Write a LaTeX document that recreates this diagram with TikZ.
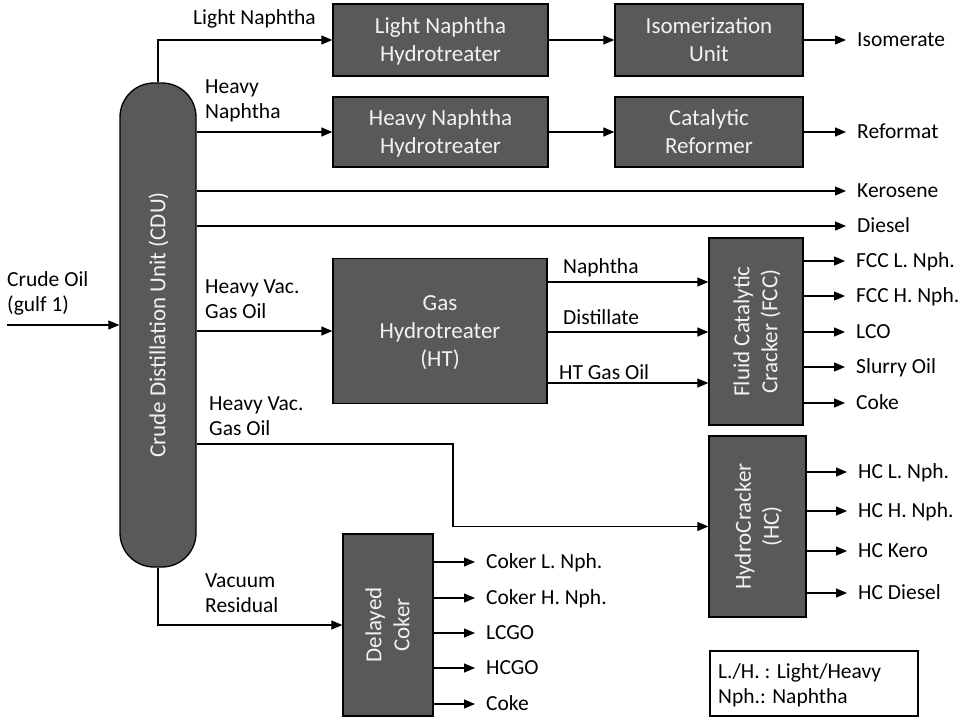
\documentclass[tikz,border=0pt]{standalone}
\usepackage{fontspec}
\setmainfont{Carlito}
\usetikzlibrary{arrows.meta}
\definecolor{boxgray}{HTML}{595959}
\definecolor{boxtxt}{HTML}{F2F2F2}
\newcommand{\ls}{\rule[-5.6pt]{0pt}{25pt}}
\newcommand{\bs}{\rule[-6.6pt]{0pt}{28pt}}
\begin{document}
\begin{tikzpicture}[x=1pt,y=-1pt,
  unit/.style={draw=black, line width=1.3pt, fill=boxgray, text=boxtxt, align=center, inner sep=0pt, font=\fontsize{23}{28}\selectfont},
  boxtext/.style={text=boxtxt, align=center, inner sep=0pt, font=\fontsize{23}{28}\selectfont},
  lab/.style={inner sep=0pt, align=left, anchor=west, text=black, font=\fontsize{21.5}{25}\selectfont},
  outlab/.style={lab, inner xsep=11pt},
  flow/.style={line width=1.2pt, -{Triangle[length=11pt,width=9pt]}},
  conn/.style={line width=1.2pt}]
\useasboundingbox (0,0) rectangle (966,717);

% main column
\node[unit, minimum width=76pt, minimum height=484pt, rounded corners=34pt] (CDU) at (158,325) {};
\node[boxtext, rotate=90] (CDUt) at (CDU) {\bs Crude Distillation Unit (CDU)};

% units
\node[unit, minimum width=215pt, minimum height=72pt] (LNHT) at (440.5,40) {\bs Light Naphtha\\\bs Hydrotreater};
\node[unit, minimum width=188pt, minimum height=72pt] (ISO) at (709,40) {\bs Isomerization\\\bs Unit};
\node[unit, minimum width=215pt, minimum height=70pt] (HNHT) at (440.5,132) {\bs Heavy Naphtha\\\bs Hydrotreater};
\node[unit, minimum width=188pt, minimum height=70pt] (CR) at (709,132) {\bs Catalytic\\\bs Reformer};
\node[unit, minimum width=214pt, minimum height=145pt] (GHT) at (440,331) {\bs Gas\\\bs Hydrotreater\\\bs (HT)};
\node[unit, minimum width=94pt, minimum height=187pt] (FCC) at (756,331.5) {};
\node[boxtext, rotate=90] (FCCt) at (FCC) {\bs Fluid Catalytic\\\bs Cracker (FCC)};
\node[unit, minimum width=97pt, minimum height=181pt] (HC) at (757.5,526.5) {};
\node[boxtext, rotate=90] (HCt) at (HC) {\bs HydroCracker\\\bs (HC)};
\node[unit, minimum width=90pt, minimum height=182pt] (DC) at (388,625) {};
\node[boxtext, rotate=90] (DCt) at (DC) {\bs Delayed\\\bs Coker};

% legend
\node[draw=black, line width=1.2pt, minimum width=208pt, minimum height=65pt, inner sep=0pt] (LEG) at (814,683.5) {};
\node[lab] (LEGt) at (718,684.5) {\ls L./H. : Light/Heavy\\\ls Nph.: Naphtha};

% stream labels
\node[lab] (lLN) at (193,18) {\ls Light Naphtha};
\node[lab] (lHN) at (205,99.5) {\ls Heavy\\\ls Naphtha};
\node[lab] (lHV1) at (205,299.5) {\ls Heavy Vac.\\\ls Gas Oil};
\node[lab] (lHV2) at (209,416.5) {\ls Heavy Vac.\\\ls Gas Oil};
\node[lab] (lVR) at (205,593) {\ls Vacuum\\\ls Residual};
\node[lab] (lCO) at (7,292.5) {\ls Crude Oil\\\ls (gulf 1)};
\node[lab] (lNa) at (563,267) {\ls Naphtha};
\node[lab] (lDi) at (563,318) {\ls Distillate};
\node[lab] (lHT) at (559,373) {\ls HT Gas Oil};

% products
\node[outlab] (oIso) at (846,40) {\ls Isomerate};
\node[outlab] (oRef) at (846,132) {\ls Reformat};
\node[outlab] (oKer) at (846,191) {\ls Kerosene};
\node[outlab] (oDie) at (846,226) {\ls Diesel};
\node[outlab] (oF1) at (845,261) {\ls FCC L. Nph.};
\node[outlab] (oF2) at (845,296) {\ls FCC H. Nph.};
\node[outlab] (oF3) at (845,332) {\ls LCO};
\node[outlab] (oF4) at (845,367) {\ls Slurry Oil};
\node[outlab] (oF5) at (845,403) {\ls Coke};
\node[outlab] (oH1) at (847,472) {\ls HC L. Nph.};
\node[outlab] (oH2) at (847,511) {\ls HC H. Nph.};
\node[outlab] (oH3) at (847,551) {\ls HC Kero};
\node[outlab] (oH4) at (847,593) {\ls HC Diesel};
\node[outlab] (oC1) at (475,562) {\ls Coker L. Nph.};
\node[outlab] (oC2) at (475,598) {\ls Coker H. Nph.};
\node[outlab] (oC3) at (475,633) {\ls LCGO};
\node[outlab] (oC4) at (475,668) {\ls HCGO};
\node[outlab] (oC5) at (475,704) {\ls Coke};

% connectors
\coordinate (crude) at (7,325);
\draw[flow] (crude) -- (CDU);
\draw[flow] (CDU.north) |- (LNHT.west);
\draw[flow] (LNHT) -- (ISO);
\draw[flow] (ISO) -- (oIso);
\draw[flow] (CDU.east |- HNHT) -- (HNHT);
\draw[flow] (HNHT) -- (CR);
\draw[flow] (CR) -- (oRef);
\draw[flow] (CDU.east |- oKer) -- (oKer);
\draw[flow] (CDU.east |- oDie) -- (oDie);
\draw[flow] (CDU.east |- GHT) -- (GHT);
\coordinate (g1) at (GHT.east |- 0,282);
\coordinate (g2) at (GHT.east |- 0,332);
\coordinate (g3) at (GHT.east |- 0,383);
\draw[flow] (g1) -- (g1 -| FCC.west);
\draw[flow] (g2) -- (g2 -| FCC.west);
\draw[flow] (g3) -- (g3 -| FCC.west);
\foreach \o in {oF1,oF2,oF3,oF4,oF5}{\draw[flow] (FCC.east |- \o) -- (\o);}
\coordinate (bend) at (453,444);
\draw[flow] (CDU.east |- bend) -- (bend) |- (HC);
\foreach \o in {oH1,oH2,oH3,oH4}{\draw[flow] (HC.east |- \o) -- (\o);}
\draw[flow] (CDU.south) |- (DC);
\foreach \o in {oC1,oC2,oC3,oC4,oC5}{\draw[flow] (DC.east |- \o) -- (\o);}
\end{tikzpicture}
\end{document}
